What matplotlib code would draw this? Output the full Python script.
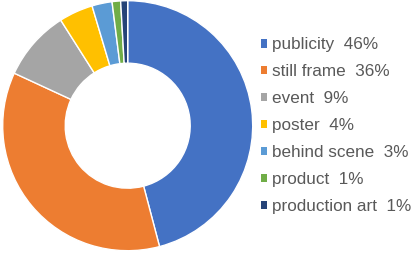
import matplotlib
matplotlib.use("Agg")
import matplotlib.pyplot as plt

categories = ["publicity", "still frame", "event", "poster",
              "behind scene", "product", "production art"]
shares = [45.9, 36.0, 9.1, 4.4, 2.6, 1.1, 0.9]
pct_labels = ["46%", "36%", "9%", "4%", "3%", "1%", "1%"]

COLORS = ["#4472C4", "#ED7D31", "#A5A5A5", "#FFC000",
          "#5B9BD5", "#70AD47", "#264478"]
TEXT = "#595959"

plt.rcParams["font.family"] = ["Liberation Sans", "DejaVu Sans"]

W, H = 415, 254
fig = plt.figure(figsize=(W / 100, H / 100), dpi=100)
fig.patch.set_facecolor("white")

R = 125
cx, cy = 127.7, 254 - 125.7
ax = fig.add_axes([(cx - R) / W, (cy - R) / H, 2 * R / W, 2 * R / H])
wedges, _ = ax.pie(
    shares, colors=COLORS, startangle=90, counterclock=False, radius=1,
    wedgeprops=dict(width=0.5, edgecolor="white", linewidth=1),
)
ax.set_xlim(-1, 1)
ax.set_ylim(-1, 1)
ax.set_aspect("equal")
ax.axis("off")

labels = [f"{c}  {p}" for c, p in zip(categories, pct_labels)]
leg = fig.legend(
    wedges, labels, loc="upper left",
    bbox_to_anchor=(260.5 / W, 1 - 37.5 / H), bbox_transform=fig.transFigure,
    frameon=False, fontsize=12.3, labelcolor=TEXT,
    handlelength=0.37, handleheight=0.37, handletextpad=0.3,
    labelspacing=0.7, borderpad=0, borderaxespad=0,
)
for h in leg.legend_handles:
    h.set_edgecolor("none")

fig.savefig("out.png", dpi=100, facecolor="white")
